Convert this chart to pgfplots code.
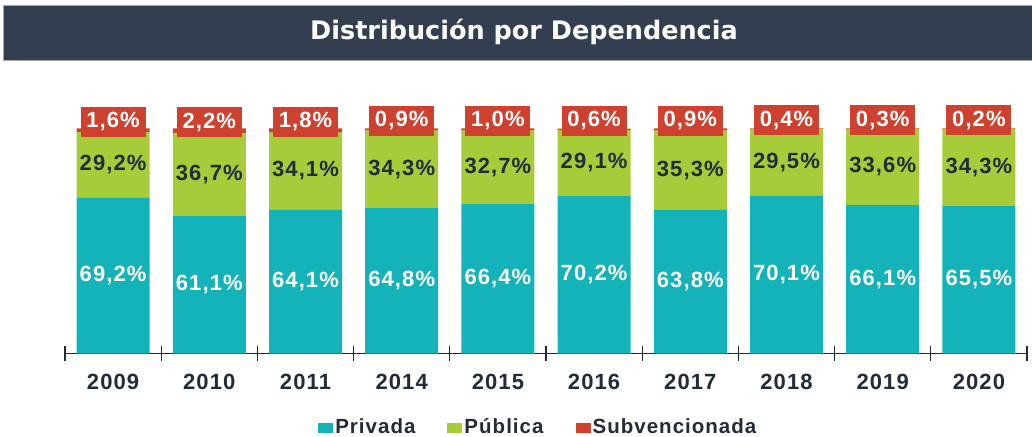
\documentclass[border=0pt]{standalone}
\usepackage{pgfplots}
\pgfplotsset{compat=1.18}
\usepackage{fontspec}
\setmainfont{Liberation Sans}
\newfontfamily\lblfont[LetterSpace=5]{Liberation Sans}
\newfontfamily\titlefont{DejaVu Sans}
\definecolor{cPriv}{HTML}{13B3B9}
\definecolor{cPub}{HTML}{A6CC3A}
\definecolor{cSub}{HTML}{CD412E}
\definecolor{cDark}{HTML}{232B38}
\definecolor{cTitle}{HTML}{333E50}
\begin{document}
\begin{tikzpicture}
\path[use as bounding box] (0,0) rectangle (1032pt,436pt);
\fill[cTitle, draw=gray!70] (3pt,376pt) rectangle (1033pt,431pt);
\node[text=white, font=\titlefont\bfseries\fontsize{25.5}{26}\selectfont] at (524pt,404pt) {Distribución por Dependencia};
\begin{axis}[
  at={(65pt,82.5pt)}, anchor=south west,
  scale only axis, width=962pt, height=225pt,
  ybar stacked, bar width=73pt,
  ymin=0, ymax=100, xmin=-0.5, xmax=9.5,
  clip=false,
  axis y line=none, axis x line*=bottom,
  axis line style={cDark, line width=1.2pt},
  xtick={0,...,9},
  xticklabels={2009,2010,2011,2014,2015,2016,2017,2018,2019,2020},
  major tick length=0pt,
  minor xtick={-0.5,0.5,...,9.5},
  minor tick length=14pt,
  tick align=center,
  minor tick style={cDark, line width=1.2pt},
  xticklabel style={font=\lblfont\bfseries\fontsize{22}{22}\selectfont, text=cDark, yshift=-17pt},
  /pgf/number format/assume math mode=true,
  point meta=rawy,
  nodes near coords={\pgfmathprintnumber[fixed,fixed zerofill,precision=1,use comma]{\pgfplotspointmeta}\%},
  every node near coord/.append style={font=\lblfont\bfseries\fontsize{22}{22}\selectfont},
  legend columns=3,
  legend style={draw=none, fill=none, at={(axis description cs:0.492,-0.331)}, anchor=center,
    font=\lblfont\bfseries\fontsize{20.5}{21}\selectfont, text=cDark,
    nodes={text height=15pt, text depth=4pt},
    /tikz/every even column/.append style={column sep=30pt}},
  legend image code/.code={\path (0pt,-5pt) rectangle (15pt,5pt); \fill[#1] (0pt,-5pt) rectangle (10pt,5pt);},
]
\addplot[fill=cPriv, draw=none, every node near coord/.append style={text=white, anchor=center}]
  coordinates {(0,69.2) (1,61.1) (2,64.1) (3,64.8) (4,66.4) (5,70.2) (6,63.8) (7,70.1) (8,66.1) (9,65.5)};
\addplot[fill=cPub, draw=none, every node near coord/.append style={text=cDark, anchor=center}]
  coordinates {(0,29.2) (1,36.7) (2,34.1) (3,34.3) (4,32.7) (5,29.1) (6,35.3) (7,29.5) (8,33.6) (9,34.3)};
\addplot[fill=cSub, draw=none, every node near coord/.append style={fill=cSub, text=white, anchor=center, yshift=8.5pt, minimum width=65pt, minimum height=30pt, inner sep=0pt}]
  coordinates {(0,1.6) (1,2.2) (2,1.8) (3,0.9) (4,1.0) (5,0.6) (6,0.9) (7,0.4) (8,0.3) (9,0.2)};
\legend{Privada, Pública, Subvencionada}
\end{axis}
\end{tikzpicture}
\end{document}
